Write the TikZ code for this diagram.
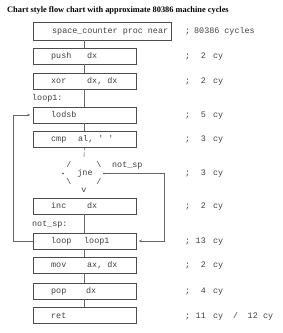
\documentclass[tikz,border=0pt]{standalone}
\usepackage{fontspec}
\setmainfont{Liberation Serif}
\newfontfamily\codefont{Liberation Mono}
\usetikzlibrary{arrows.meta}
\begin{document}
\begin{tikzpicture}[x=1pt,y=-1pt,
  box/.style={draw=black!70, line width=0.6pt, minimum height=16pt, inner sep=0pt},
  code/.style={font=\codefont\fontsize{8.4}{10}\selectfont, text=black!75, inner sep=0pt, anchor=base west},
  codee/.style={code, anchor=base east},
  codec/.style={code, anchor=base},
  conn/.style={draw=black!60, line width=0.6pt},
  tip/.style={-{Stealth[length=3pt,width=2.6pt]}},
  pt/.style={circle, fill=black!75, inner sep=0pt, minimum size=1.8pt}]
\useasboundingbox (0,0) rectangle (283,333);
% title
\node[font=\bfseries\fontsize{8.35}{10}\selectfont, anchor=base west, inner sep=0pt] (title) at (7,12) {Chart style flow chart with approximate 80386 machine cycles};
% boxes
\node[box, minimum width=138pt, minimum height=18pt] (b1) at (102,31) {};
\node[box, minimum width=103pt] (b2) at (84.5,56) {};
\node[box, minimum width=103pt] (b3) at (84.5,81) {};
\node[box, minimum width=103pt] (b4) at (84.5,115) {};
\node[box, minimum width=103pt] (b5) at (84.5,139) {};
\node[box, minimum width=103pt] (b6) at (84.5,206) {};
\node[box, minimum width=103pt] (b7) at (84.5,241) {};
\node[box, minimum width=103pt] (b8) at (84.5,265) {};
\node[box, minimum width=103pt] (b9) at (84.5,291) {};
\node[box, minimum width=103pt] (b10) at (84.5,315.5) {};
% box texts
\node[code] (t1) at (52,33.5) {space\_counter proc near};
\node[code] (t2a) at (51,58.5) {push};
\node[code] (t2b) at (87,58.5) {dx};
\node[code] (t3a) at (51,83.5) {xor};
\node[code] (t3b) at (87,83.5) {dx, dx};
\node[code] (t4a) at (51,117.5) {lodsb};
\node[code] (t5a) at (51,141.5) {cmp};
\node[code] (t5b) at (78,141.5) {al, ' '};
\node[code] (t6a) at (51,208.5) {inc};
\node[code] (t6b) at (87,208.5) {dx};
\node[code] (t7a) at (51,243.5) {loop};
\node[code] (t7b) at (84,243.5) {loop1};
\node[code] (t8a) at (51,267.5) {mov};
\node[code] (t8b) at (87,267.5) {ax, dx};
\node[code] (t9a) at (51,293.5) {pop};
\node[code] (t9b) at (86,293.5) {dx};
\node[code] (t10a) at (51,318) {ret};
% labels
\node[code] (l1) at (32,100.5) {loop1:};
\node[code] (l2) at (32,226.5) {not\_sp:};
\node[code] (l3) at (112,167.5) {not\_sp};
% diamond
\node[pt, minimum size=1.3pt] (dtop) at (84,156) {};
\node[codec] (d1) at (69,167.5) {/};
\node[codec] (d2) at (99,167.5) {\textbackslash};
\node[pt] (dl) at (63,173.5) {};
\node[codec] (dj) at (85,175.5) {jne};
\node[pt] (dr) at (104,173.5) {};
\node[codec] (d3) at (69,184.5) {\textbackslash};
\node[codec] (d4) at (99,184.5) {/};
\node[codec] (dv) at (84,192.5) {v};
% comments
\node[code] (c1s) at (185,33.5) {;};
\node[code] (c1) at (194,33.5) {80386 cycles};
\foreach \n/\y/\v in {2/58.5/2, 3/83.5/2, 4/117.5/5, 5/141.5/3, 6/175.5/3, 7/208.5/2, 8/243.5/13, 9/267.5/2, 10/293.5/4}{
  \node[code] (c\n s) at (185,\y) {;};
  \node[codee] (c\n n) at (206,\y) {\v};
  \node[code] (c\n c) at (213,\y) {cy};
}
\node[code] (c11s) at (185,318) {;};
\node[codee] (c11n) at (206,318) {11};
\node[code] (c11c) at (213,318) {cy};
\node[code] (c11d) at (233,318) {/};
\node[codee] (c11m) at (258,318) {12};
\node[code] (c11e) at (263,318) {cy};
% connectors
\draw[conn] (b2.north |- b1.south) -- (b2.north);
\draw[conn] (b2.south) -- (b3.north);
\draw[conn] (b3.south) -- (b4.north);
\draw[conn] (b4.south) -- (b5.north);
\draw[conn, dash pattern=on 3pt off 2pt] (b5.south) -- (dtop);
\draw[conn] (b6.south) -- (b7.north);
\draw[conn] (b7.south) -- (b8.north);
\draw[conn] (b8.south) -- (b9.north);
\draw[conn] (b9.south) -- (b10.north);
\coordinate (lc) at (13,241);
\coordinate (rc) at (164,173.5);
\draw[conn, tip] (b7.west) -- (lc) |- ([xshift=-2.5pt]b4.west);
\draw[conn, tip] (dr) -- (rc) |- ([xshift=2.5pt]b7.east);
\end{tikzpicture}
\end{document}
